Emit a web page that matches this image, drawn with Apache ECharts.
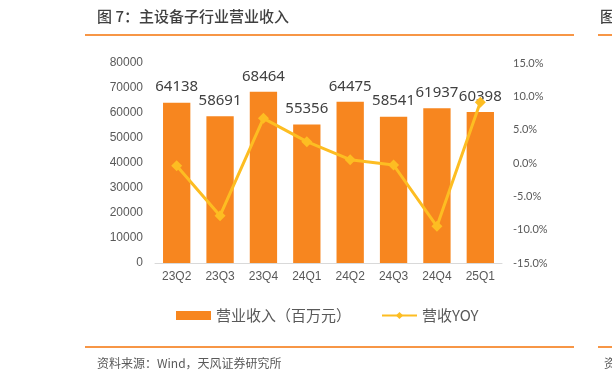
<!DOCTYPE html>
<html>
<head>
<meta charset="utf-8">
<script src="https://cdn.jsdelivr.net/npm/echarts@6/dist/echarts.min.js"></script>
<style>
  html, body { margin: 0; padding: 0; background: #fff; }
  #chart { width: 612px; height: 383px; }
</style>
</head>
<body>
<div id="chart"></div>
<script>
// 季度
const quarters = ['23Q2', '23Q3', '23Q4', '24Q1', '24Q2', '24Q3', '24Q4', '25Q1']
// 营业收入（百万元）
const revenue = [64138, 58691, 68464, 55356, 64475, 58541, 61937, 60398]
// 营收YOY（%）
const yoy = [-0.4, -7.9, 6.7, 3.2, 0.5, -0.3, -9.5, 9.1]

const barColor = '#F7861F'
const lineColor = '#FDBD22'
const axisText = '#595959'

const chart = echarts.init(document.getElementById('chart'), null, { renderer: 'canvas' })

chart.setOption({
  animation: false,
  grid: { left: 155, right: 110, top: 63, bottom: 120 },
  legend: {
    top: 303,
    left: 171,
    itemWidth: 35,
    itemHeight: 9,
    itemGap: 30,
    textStyle: { color: axisText, fontSize: 15, fontFamily: 'Noto Sans CJK SC' },
    data: [
      { name: '营业收入（百万元）', icon: 'rect' },
      { name: '营收YOY' }
    ]
  },
  xAxis: {
    type: 'category',
    data: quarters,
    axisLine: { lineStyle: { color: '#D9D9D9', width: 1 } },
    axisTick: { show: false },
    axisLabel: { color: axisText, fontSize: 12, fontFamily: 'Liberation Sans', margin: 8 }
  },
  yAxis: [
    {
      type: 'value',
      min: 0, max: 80000, interval: 10000,
      axisLine: { show: false },
      axisTick: { show: false },
      splitLine: { show: false },
      axisLabel: {
        color: axisText, fontSize: 12, fontFamily: 'Liberation Sans', margin: 12,
        formatter: v => String(v)
      }
    },
    {
      type: 'value',
      min: -15, max: 15, interval: 5,
      axisLine: { show: false },
      axisTick: { show: false },
      splitLine: { show: false },
      axisLabel: {
        color: axisText, fontSize: 11, fontFamily: 'Lato', margin: 11,
        formatter: v => v.toFixed(1) + '%'
      }
    }
  ],
  series: [
    {
      name: '营业收入（百万元）',
      type: 'bar',
      data: revenue,
      barWidth: '63%',
      itemStyle: { color: barColor },
      label: {
        show: true,
        position: 'top',
        distance: 8,
        color: '#404040',
        fontSize: 15,
        fontFamily: 'Noto Sans'
      }
    },
    {
      name: '营收YOY',
      type: 'line',
      yAxisIndex: 1,
      data: yoy,
      symbol: 'diamond',
      symbolSize: 11,
      lineStyle: { color: lineColor, width: 3 },
      itemStyle: { color: lineColor }
    }
  ],
  graphic: [
    {
      type: 'text', left: 97, top: 9,
      style: { text: '图 7：主设备子行业营业收入', fill: '#404040', font: '500 15px "Noto Sans CJK SC"' }
    },
    { type: 'rect', shape: { x: 85, y: 34, width: 489, height: 2 }, style: { fill: '#F79646' } },
    { type: 'rect', shape: { x: 598, y: 34, width: 14, height: 2 }, style: { fill: '#F79646' } },
    {
      type: 'text', left: 600, top: 9,
      style: { text: '图', fill: '#404040', font: '500 15px "Noto Sans CJK SC"' }
    },
    { type: 'rect', shape: { x: 85, y: 346, width: 489, height: 2 }, style: { fill: '#F79646' } },
    { type: 'rect', shape: { x: 598, y: 346, width: 14, height: 2 }, style: { fill: '#F79646' } },
    {
      type: 'text', left: 97, top: 357,
      style: { text: '资料来源：Wind，天风证券研究所', fill: '#595959', font: '12px "Noto Sans CJK SC"' }
    },
    {
      type: 'text', left: 604, top: 357,
      style: { text: '资', fill: '#595959', font: '12px "Noto Sans CJK SC"' }
    }
  ]
})
</script>
</body>
</html>
